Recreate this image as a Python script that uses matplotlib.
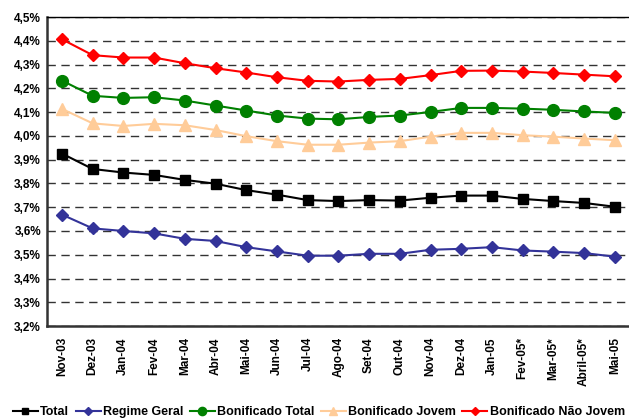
import matplotlib
matplotlib.use("Agg")
import matplotlib.pyplot as plt
from matplotlib.ticker import FuncFormatter

plt.rcParams['font.family'] = ['Liberation Sans', 'DejaVu Sans']

meses = ["Nov-03", "Dez-03", "Jan-04", "Fev-04", "Mar-04", "Abr-04", "Mai-04",
         "Jun-04", "Jul-04", "Ago-04", "Set-04", "Out-04", "Nov-04", "Dez-04",
         "Jan-05", "Fev-05*", "Mar-05*", "Abril-05*", "Mai-05"]

total = [3.926, 3.861, 3.846, 3.836, 3.815, 3.799, 3.772, 3.753, 3.730, 3.726,
         3.730, 3.728, 3.740, 3.749, 3.749, 3.735, 3.726, 3.718, 3.702]
regime_geral = [3.669, 3.611, 3.600, 3.590, 3.567, 3.558, 3.532, 3.514, 3.496, 3.496,
                3.504, 3.504, 3.521, 3.525, 3.532, 3.518, 3.513, 3.507, 3.492]
bonificado_total = [4.233, 4.169, 4.160, 4.163, 4.149, 4.128, 4.107, 4.086, 4.073, 4.070,
                    4.080, 4.086, 4.101, 4.118, 4.118, 4.115, 4.110, 4.103, 4.097]
bonificado_jovem = [4.114, 4.053, 4.042, 4.051, 4.045, 4.025, 3.999, 3.978, 3.963, 3.963,
                    3.972, 3.978, 3.997, 4.013, 4.013, 4.003, 3.997, 3.989, 3.982]
bonificado_nao_jovem = [4.407, 4.340, 4.330, 4.330, 4.306, 4.285, 4.267, 4.247, 4.232, 4.229,
                        4.236, 4.240, 4.256, 4.274, 4.275, 4.271, 4.265, 4.258, 4.251]

series = [
    ("Total", total, "#000000", "s", 6.5),
    ("Regime Geral", regime_geral, "#333399", "D", 6.5),
    ("Bonificado Total", bonificado_total, "#008000", "o", 8.5),
    ("Bonificado Jovem", bonificado_jovem, "#FFCC99", "^", 8.5),
    ("Bonificado Não Jovem", bonificado_nao_jovem, "#FF0000", "D", 6.5),
]

fig = plt.figure(figsize=(6.29, 4.18), dpi=100)
ax = fig.add_axes([0.074, 0.22, 0.928, 0.739])

x = list(range(len(meses)))
for nome, vals, cor, mk, ms in series:
    ax.plot(x, vals, color=cor, marker=mk, markersize=ms, linewidth=1.5,
            markeredgecolor=cor, label=nome)

ax.set_xlim(-0.5, len(meses) - 0.5)
ax.set_ylim(3.2, 4.5)
ax.set_yticks([3.2 + 0.1 * i for i in range(14)])
ax.yaxis.set_major_formatter(FuncFormatter(lambda v, p: f"{v:.1f}%".replace(".", ",")))
ax.set_xticks(x)
ax.set_xticklabels(meses, rotation=90, fontweight='bold', fontsize=8.5)
for lbl in ax.get_yticklabels():
    lbl.set_fontweight('bold')
    lbl.set_fontsize(8.5)

ax.yaxis.grid(True, linestyle=(0, (6, 4)), color='#333333', linewidth=1.0)
ax.set_axisbelow(True)
ax.tick_params(axis='y', length=0, pad=4)
ax.tick_params(axis='x', length=0, pad=8)
ax.spines['right'].set_visible(False)
ax.spines['top'].set_linewidth(1.0)
ax.spines['left'].set_linewidth(1.8)
ax.spines['bottom'].set_linewidth(1.8)
ax.spines['left'].set_color('#333333')
ax.spines['bottom'].set_color('#333333')

leg = fig.legend(loc='lower center', bbox_to_anchor=(0.507, -0.028), ncol=5, frameon=False,
                 prop={'weight': 'bold', 'size': 9}, handlelength=2.0, handletextpad=0.2,
                 columnspacing=0.5, markerscale=0.7)

fig.savefig("out.png", dpi=100)
